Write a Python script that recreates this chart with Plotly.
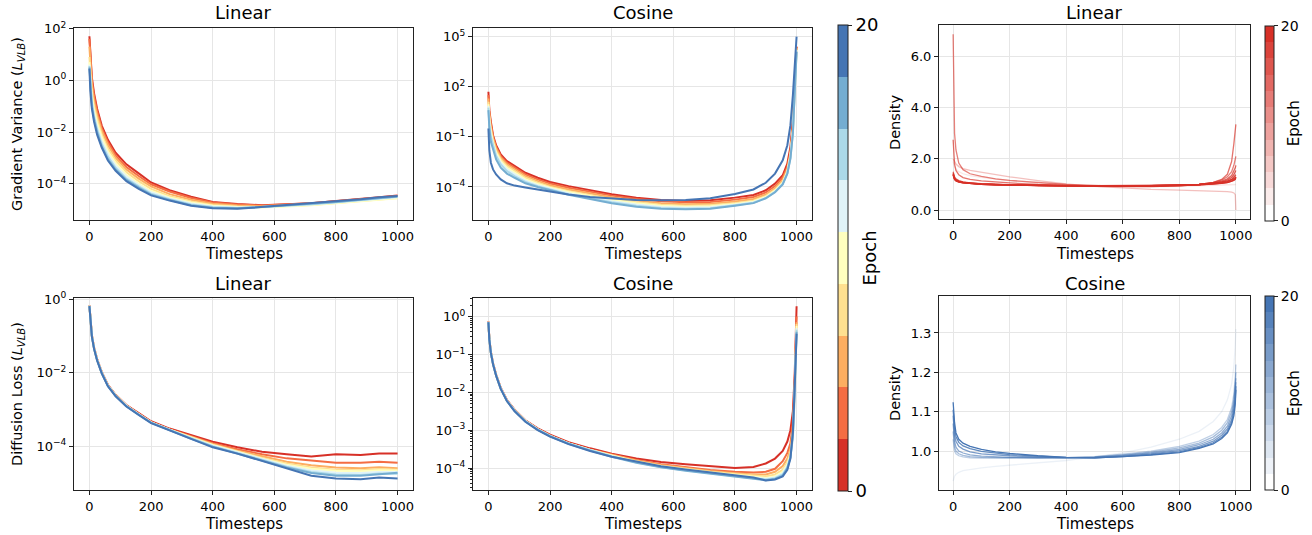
import plotly.graph_objects as go

# ---------------- data ----------------
EPOCH_COLORS = ["#d73027", "#f46d43", "#fdae61", "#fee090", "#ffffbf",
                "#e0f3f8", "#abd9e9", "#74add1", "#4575b4"]

T_LIN = [0, 3, 8, 15, 25, 40, 60, 85, 120, 160, 200, 260, 330, 400, 480, 560,
         640, 720, 800, 880, 940, 1000]
T_COS = [0, 3, 8, 15, 25, 40, 60, 85, 120, 160, 200, 260, 330, 400, 480, 560,
         640, 720, 800, 860, 900, 930, 955, 970, 980, 988, 994, 1000]
T_DENS = [0, 2, 5, 10, 20, 35, 60, 100, 150, 200, 300, 400, 500, 600, 700, 800,
          870, 920, 950, 970, 985, 993, 998, 1000]

# log10 of gradient variance, linear schedule (epoch colours red -> blue)
GV_LINEAR_LOG10 = [
    [1.7, 0.9, 0.1, -0.5, -1.1, -1.75, -2.3, -2.8, -3.25, -3.6, -3.95, -4.25, -4.5, -4.7, -4.78, -4.83, -4.8, -4.75, -4.67, -4.6, -4.52, -4.45],
    [1.6, 0.8, 0.0, -0.6, -1.2, -1.85, -2.4, -2.9, -3.35, -3.7, -4.02, -4.3, -4.55, -4.72, -4.8, -4.84, -4.8, -4.75, -4.68, -4.6, -4.53, -4.47],
    [1.3, 0.5, -0.2, -0.8, -1.35, -1.95, -2.5, -3.0, -3.45, -3.8, -4.1, -4.4, -4.62, -4.77, -4.84, -4.87, -4.83, -4.78, -4.7, -4.63, -4.56, -4.5],
    [0.9, 0.2, -0.45, -1.0, -1.5, -2.1, -2.65, -3.1, -3.55, -3.9, -4.2, -4.48, -4.68, -4.82, -4.88, -4.9, -4.87, -4.82, -4.74, -4.67, -4.6, -4.55],
    [0.7, 0.0, -0.6, -1.15, -1.65, -2.2, -2.75, -3.2, -3.65, -4.0, -4.28, -4.53, -4.72, -4.85, -4.9, -4.92, -4.88, -4.83, -4.75, -4.68, -4.61, -4.56],
    [0.6, -0.1, -0.75, -1.3, -1.8, -2.35, -2.85, -3.3, -3.72, -4.05, -4.33, -4.57, -4.76, -4.88, -4.92, -4.9, -4.86, -4.8, -4.72, -4.65, -4.58, -4.52],
    [0.55, -0.2, -0.85, -1.4, -1.9, -2.45, -2.95, -3.38, -3.8, -4.1, -4.38, -4.6, -4.8, -4.9, -4.94, -4.9, -4.85, -4.79, -4.71, -4.63, -4.56, -4.5],
    [0.5, -0.3, -1.0, -1.5, -2.0, -2.55, -3.05, -3.45, -3.85, -4.15, -4.42, -4.63, -4.83, -4.93, -4.95, -4.9, -4.84, -4.78, -4.7, -4.62, -4.55, -4.49],
    [0.45, -0.4, -1.1, -1.6, -2.1, -2.6, -3.1, -3.5, -3.9, -4.2, -4.45, -4.65, -4.85, -4.95, -4.97, -4.9, -4.82, -4.76, -4.68, -4.6, -4.52, -4.47],
]

# log10 of gradient variance, cosine schedule
GV_COSINE_LOG10 = [
    [1.7, 0.6, -0.1, -0.9, -1.5, -2.05, -2.45, -2.75, -3.15, -3.45, -3.7, -3.95, -4.2, -4.44, -4.65, -4.78, -4.84, -4.8, -4.64, -4.48, -4.2, -3.8, -3.3, -2.6, -1.6, 0.0, 2.5, 4.4],
    [1.5, 0.45, -0.25, -1.0, -1.6, -2.15, -2.55, -2.85, -3.25, -3.55, -3.8, -4.05, -4.3, -4.52, -4.72, -4.86, -4.92, -4.9, -4.76, -4.6, -4.33, -3.95, -3.45, -2.8, -1.9, -0.3, 2.2, 4.4],
    [1.3, 0.3, -0.4, -1.1, -1.7, -2.25, -2.65, -2.95, -3.35, -3.65, -3.9, -4.15, -4.4, -4.62, -4.82, -4.97, -5.03, -5.0, -4.87, -4.72, -4.45, -4.08, -3.6, -2.95, -2.0, -0.5, 2.0, 4.3],
    [1.1, 0.1, -0.6, -1.25, -1.85, -2.35, -2.75, -3.05, -3.45, -3.75, -4.0, -4.25, -4.5, -4.72, -4.92, -5.07, -5.13, -5.1, -4.97, -4.82, -4.55, -4.18, -3.7, -3.05, -2.1, -0.6, 1.9, 4.3],
    [0.95, 0.0, -0.7, -1.35, -1.95, -2.45, -2.85, -3.15, -3.55, -3.82, -4.05, -4.3, -4.55, -4.78, -4.98, -5.12, -5.18, -5.15, -5.02, -4.87, -4.6, -4.22, -3.75, -3.1, -2.15, -0.7, 1.8, 4.2],
    [0.85, -0.15, -0.85, -1.45, -2.05, -2.55, -2.95, -3.25, -3.62, -3.9, -4.1, -4.38, -4.62, -4.85, -5.05, -5.2, -5.25, -5.22, -5.07, -4.92, -4.65, -4.27, -3.8, -3.15, -2.2, -0.7, 1.8, 4.2],
    [0.75, -0.3, -1.0, -1.55, -2.15, -2.65, -3.05, -3.35, -3.7, -3.95, -4.15, -4.43, -4.67, -4.92, -5.12, -5.26, -5.3, -5.27, -5.1, -4.95, -4.67, -4.3, -3.82, -3.18, -2.25, -0.75, 1.7, 4.1],
    [0.6, -0.5, -1.3, -1.8, -2.35, -2.85, -3.2, -3.45, -3.78, -4.0, -4.2, -4.47, -4.72, -4.98, -5.18, -5.3, -5.34, -5.3, -5.12, -4.97, -4.68, -4.32, -3.85, -3.2, -2.3, -0.8, 1.7, 4.1],
    [-0.5, -1.8, -2.55, -2.95, -3.25, -3.55, -3.78, -3.92, -4.03, -4.15, -4.28, -4.45, -4.6, -4.7, -4.78, -4.8, -4.78, -4.68, -4.42, -4.15, -3.75, -3.2, -2.4, -1.5, -0.3, 1.5, 3.5, 5.0],
]

# log10 of diffusion loss, linear schedule
DL_LINEAR_LOG10 = [
    [-0.17, -0.58, -0.98, -1.31, -1.63, -1.98, -2.33, -2.6, -2.88, -3.1, -3.32, -3.52, -3.7, -3.88, -4.03, -4.15, -4.22, -4.28, -4.22, -4.24, -4.2, -4.2],
    [-0.17, -0.58, -0.98, -1.32, -1.64, -1.99, -2.34, -2.61, -2.89, -3.12, -3.34, -3.54, -3.73, -3.92, -4.08, -4.22, -4.33, -4.4, -4.45, -4.45, -4.42, -4.45],
    [-0.18, -0.6, -1.0, -1.33, -1.65, -2.0, -2.35, -2.62, -2.9, -3.13, -3.35, -3.55, -3.75, -3.94, -4.12, -4.28, -4.42, -4.52, -4.58, -4.6, -4.57, -4.6],
    [-0.18, -0.6, -1.0, -1.33, -1.65, -2.0, -2.35, -2.62, -2.9, -3.13, -3.35, -3.55, -3.76, -3.96, -4.14, -4.32, -4.47, -4.58, -4.64, -4.65, -4.62, -4.64],
    [-0.18, -0.6, -1.0, -1.33, -1.65, -2.0, -2.35, -2.62, -2.9, -3.13, -3.35, -3.55, -3.77, -3.97, -4.15, -4.34, -4.5, -4.61, -4.67, -4.68, -4.65, -4.66],
    [-0.18, -0.6, -1.0, -1.33, -1.65, -2.0, -2.35, -2.62, -2.9, -3.13, -3.35, -3.55, -3.78, -3.98, -4.16, -4.36, -4.53, -4.66, -4.72, -4.73, -4.7, -4.7],
    [-0.18, -0.6, -1.0, -1.34, -1.66, -2.01, -2.36, -2.63, -2.91, -3.14, -3.36, -3.56, -3.79, -4.0, -4.18, -4.38, -4.56, -4.7, -4.77, -4.78, -4.74, -4.75],
    [-0.19, -0.61, -1.01, -1.34, -1.66, -2.01, -2.36, -2.63, -2.91, -3.14, -3.36, -3.56, -3.8, -4.01, -4.19, -4.39, -4.58, -4.73, -4.8, -4.8, -4.76, -4.72],
    [-0.19, -0.61, -1.02, -1.35, -1.67, -2.02, -2.37, -2.64, -2.92, -3.15, -3.37, -3.57, -3.8, -4.03, -4.2, -4.4, -4.6, -4.8, -4.88, -4.9, -4.85, -4.88],
]

# log10 of diffusion loss, cosine schedule
DL_COSINE_LOG10 = [
    [-0.13, -0.58, -0.93, -1.23, -1.53, -1.88, -2.2, -2.46, -2.74, -2.95, -3.12, -3.32, -3.48, -3.62, -3.75, -3.84, -3.9, -3.96, -4.0, -3.97, -3.88, -3.75, -3.55, -3.3, -3.0, -2.5, -1.5, 0.27],
    [-0.13, -0.59, -0.94, -1.24, -1.54, -1.89, -2.21, -2.47, -2.75, -2.97, -3.14, -3.34, -3.51, -3.65, -3.79, -3.9, -3.98, -4.05, -4.1, -4.12, -4.1, -4.02, -3.82, -3.6, -3.35, -2.8, -1.7, 0.0],
    [-0.14, -0.6, -0.95, -1.25, -1.55, -1.9, -2.22, -2.48, -2.76, -2.98, -3.15, -3.35, -3.52, -3.66, -3.8, -3.92, -4.0, -4.08, -4.14, -4.17, -4.17, -4.1, -3.95, -3.75, -3.5, -3.0, -1.9, -0.15],
    [-0.14, -0.6, -0.95, -1.25, -1.55, -1.9, -2.22, -2.48, -2.76, -2.98, -3.15, -3.35, -3.52, -3.67, -3.82, -3.94, -4.02, -4.1, -4.16, -4.2, -4.22, -4.17, -4.05, -3.85, -3.6, -3.1, -2.0, -0.2],
    [-0.14, -0.6, -0.95, -1.25, -1.55, -1.9, -2.22, -2.48, -2.76, -2.98, -3.15, -3.35, -3.52, -3.67, -3.83, -3.95, -4.04, -4.12, -4.18, -4.23, -4.26, -4.22, -4.1, -3.9, -3.65, -3.15, -2.0, -0.25],
    [-0.14, -0.6, -0.95, -1.25, -1.55, -1.9, -2.22, -2.48, -2.76, -2.98, -3.15, -3.35, -3.52, -3.68, -3.84, -3.96, -4.05, -4.13, -4.2, -4.25, -4.28, -4.25, -4.14, -3.95, -3.7, -3.2, -2.1, -0.3],
    [-0.14, -0.6, -0.95, -1.25, -1.55, -1.9, -2.22, -2.48, -2.76, -2.98, -3.15, -3.35, -3.52, -3.69, -3.85, -3.97, -4.06, -4.14, -4.21, -4.27, -4.3, -4.27, -4.17, -3.98, -3.72, -3.2, -2.1, -0.35],
    [-0.15, -0.61, -0.96, -1.26, -1.56, -1.91, -2.23, -2.49, -2.77, -2.99, -3.16, -3.36, -3.54, -3.7, -3.86, -3.98, -4.07, -4.15, -4.22, -4.28, -4.32, -4.29, -4.2, -4.0, -3.72, -3.1, -1.9, -0.4],
    [-0.15, -0.61, -0.96, -1.26, -1.56, -1.91, -2.23, -2.5, -2.78, -3.0, -3.17, -3.37, -3.55, -3.7, -3.83, -3.95, -4.04, -4.11, -4.19, -4.25, -4.33, -4.3, -4.22, -4.05, -3.75, -3.05, -1.85, -0.45],
]

# sampling density, linear schedule (light -> dark red)
DENSITY_LINEAR = [
    [1.9, 1.8, 1.7, 1.6, 1.5, 1.42, 1.35, 1.28, 1.2, 1.14, 1.05, 0.98, 0.94, 0.92, 0.92, 0.93, 0.95, 0.97, 0.98, 0.99, 1.0, 1.0, 1.0, 1.0],
    [2.0, 1.95, 1.9, 1.8, 1.7, 1.62, 1.55, 1.47, 1.38, 1.3, 1.15, 1.02, 0.93, 0.86, 0.81, 0.78, 0.76, 0.75, 0.74, 0.72, 0.7, 0.67, 0.6, 0.0],
    [6.88, 4.3, 3.0, 2.35, 1.84, 1.58, 1.42, 1.32, 1.22, 1.16, 1.07, 1.0, 0.96, 0.93, 0.93, 0.95, 1.0, 1.08, 1.17, 1.3, 1.5, 1.75, 2.0, 2.1],
    [2.75, 2.2, 1.8, 1.55, 1.38, 1.27, 1.2, 1.14, 1.09, 1.06, 1.0, 0.96, 0.93, 0.92, 0.92, 0.95, 1.0, 1.08, 1.2, 1.4, 1.9, 2.6, 3.1, 3.35],
    [1.5, 1.4, 1.3, 1.22, 1.15, 1.1, 1.06, 1.03, 1.0, 0.98, 0.96, 0.94, 0.93, 0.93, 0.94, 0.96, 1.0, 1.06, 1.13, 1.22, 1.35, 1.5, 1.65, 1.75],
    [1.45, 1.35, 1.26, 1.19, 1.13, 1.09, 1.05, 1.02, 1.0, 0.98, 0.96, 0.95, 0.94, 0.94, 0.95, 0.97, 1.0, 1.05, 1.1, 1.17, 1.27, 1.38, 1.5, 1.55],
    [1.42, 1.32, 1.24, 1.17, 1.12, 1.08, 1.05, 1.02, 1.0, 0.98, 0.96, 0.95, 0.94, 0.94, 0.95, 0.97, 1.0, 1.04, 1.08, 1.13, 1.2, 1.28, 1.35, 1.38],
    [1.4, 1.3, 1.22, 1.16, 1.11, 1.07, 1.04, 1.01, 0.99, 0.98, 0.96, 0.95, 0.94, 0.94, 0.95, 0.97, 1.0, 1.03, 1.07, 1.11, 1.17, 1.23, 1.28, 1.3],
    [1.38, 1.28, 1.2, 1.15, 1.1, 1.06, 1.03, 1.01, 0.99, 0.98, 0.96, 0.95, 0.94, 0.94, 0.95, 0.97, 0.99, 1.02, 1.05, 1.08, 1.13, 1.18, 1.22, 1.25],
    [1.36, 1.27, 1.2, 1.14, 1.09, 1.06, 1.03, 1.01, 0.99, 0.98, 0.96, 0.95, 0.95, 0.95, 0.95, 0.97, 0.99, 1.01, 1.04, 1.07, 1.11, 1.16, 1.2, 1.3],
]
DENSITY_LINEAR_ALPHA = [0.12, 0.3, 0.62, 0.68, 0.74, 0.8, 0.86, 0.9, 0.95, 1.0]

# sampling density, cosine schedule (light -> dark blue)
DENSITY_COSINE = [
    [0.924, 0.93, 0.936, 0.941, 0.946, 0.95, 0.953, 0.957, 0.961, 0.964, 0.969, 0.976, 0.985, 0.995, 1.01, 1.03, 1.05, 1.075, 1.1, 1.13, 1.17, 1.215, 1.27, 1.31],
    [1.03, 1.01, 1.0, 0.993, 0.988, 0.985, 0.983, 0.982, 0.982, 0.982, 0.982, 0.983, 0.986, 0.992, 1.0, 1.012, 1.025, 1.042, 1.06, 1.08, 1.11, 1.145, 1.19, 1.22],
    [1.05, 1.025, 1.01, 1.0, 0.993, 0.989, 0.986, 0.984, 0.983, 0.983, 0.983, 0.983, 0.985, 0.99, 0.997, 1.008, 1.02, 1.036, 1.053, 1.072, 1.1, 1.13, 1.17, 1.2],
    [1.07, 1.04, 1.025, 1.01, 1.0, 0.995, 0.99, 0.987, 0.985, 0.984, 0.983, 0.983, 0.984, 0.989, 0.995, 1.004, 1.016, 1.03, 1.046, 1.063, 1.09, 1.12, 1.155, 1.185],
    [1.09, 1.06, 1.04, 1.025, 1.012, 1.005, 0.998, 0.993, 0.99, 0.988, 0.985, 0.983, 0.983, 0.987, 0.993, 1.001, 1.012, 1.025, 1.04, 1.056, 1.08, 1.108, 1.14, 1.175],
    [1.105, 1.075, 1.057, 1.037, 1.022, 1.013, 1.006, 0.999, 0.995, 0.991, 0.987, 0.984, 0.983, 0.986, 0.991, 0.998, 1.009, 1.021, 1.035, 1.05, 1.073, 1.098, 1.13, 1.165],
    [1.124, 1.09, 1.072, 1.046, 1.03, 1.02, 1.012, 1.004, 0.998, 0.994, 0.988, 0.984, 0.983, 0.986, 0.99, 0.996, 1.007, 1.018, 1.032, 1.046, 1.068, 1.09, 1.12, 1.156],
]
DENSITY_COSINE_ALPHA = [0.1, 0.35, 0.48, 0.6, 0.72, 0.85, 1.0]

X_TICKS = [0, 200, 400, 600, 800, 1000]

# ---------------- styling helpers ----------------
W, H = 1312, 535
FONT = "DejaVu Sans"
RED = (215, 48, 39)
BLUE = (69, 117, 180)


def px(x):
    return x / W


def py(y):
    return 1 - y / H


def rgba(c, a):
    return f"rgba({c[0]},{c[1]},{c[2]},{a})"


def blend(c, a):
    return "rgb(%d,%d,%d)" % tuple(round(255 * (1 - a) + v * a) for v in c)


def sup(p):
    return "10<sup>%s</sup>" % (str(p) if p >= 0 else "\u2212" + str(-p))


common_axis = dict(
    showline=True, linecolor="#222", linewidth=1, mirror=True,
    ticks="outside", ticklen=4, tickwidth=1, tickcolor="#222",
    showgrid=True, gridcolor="#e6e6e6", gridwidth=1, zeroline=False,
    tickfont=dict(family=FONT, size=13, color="black"),
)


def xaxis(domain, anchor):
    return dict(common_axis, domain=domain, anchor=anchor, range=[-50, 1050],
                tickmode="array", tickvals=X_TICKS)


def ylog(domain, anchor, rng, exps):
    return dict(common_axis, domain=domain, anchor=anchor, type="log", range=rng,
                tickmode="array", tickvals=[10.0 ** e for e in exps],
                ticktext=[sup(e) for e in exps])


def ylin(domain, anchor, rng, vals):
    return dict(common_axis, domain=domain, anchor=anchor, range=rng,
                tickmode="array", tickvals=vals, ticktext=["%.1f" % v for v in vals])


XA = [px(74), px(413)]
XB = [px(473), px(812)]
XE = [px(939), px(1250)]
YT = [py(220), py(28)]
YB = [py(490), py(298)]
YTE = [py(219), py(25)]
YBF = [py(490), py(296)]

fig = go.Figure()

panels = [
    ("x", "y", T_LIN, GV_LINEAR_LOG10),
    ("x2", "y2", T_COS, GV_COSINE_LOG10),
    ("x4", "y4", T_LIN, DL_LINEAR_LOG10),
    ("x5", "y5", T_COS, DL_COSINE_LOG10),
]
for xa, ya, ts, series in panels:
    for color, vals in zip(EPOCH_COLORS, series):
        fig.add_trace(go.Scatter(
            x=ts, y=[10.0 ** v for v in vals], xaxis=xa, yaxis=ya, mode="lines",
            line=dict(color=color, width=2), showlegend=False, hoverinfo="skip"))

for vals, a in zip(DENSITY_LINEAR, DENSITY_LINEAR_ALPHA):
    fig.add_trace(go.Scatter(x=T_DENS, y=vals, xaxis="x3", yaxis="y3", mode="lines",
                             line=dict(color=rgba(RED, a), width=1.3),
                             showlegend=False, hoverinfo="skip"))
for vals, a in zip(DENSITY_COSINE, DENSITY_COSINE_ALPHA):
    fig.add_trace(go.Scatter(x=T_DENS, y=vals, xaxis="x6", yaxis="y6", mode="lines",
                             line=dict(color=rgba(BLUE, a), width=1.3),
                             showlegend=False, hoverinfo="skip"))


# ---------------- colorbars ----------------
def stepped(colors):
    n = len(colors)
    cs = []
    for i, c in enumerate(colors):
        cs.append([i / n, c])
        cs.append([(i + 1) / n, c])
    return cs


def cbar_trace(colorscale, x_left, y_top, y_bot, thick, tsize, title_size, xa, ya):
    return go.Scatter(
        x=[None], y=[None], xaxis=xa, yaxis=ya, mode="markers", showlegend=False,
        hoverinfo="skip",
        marker=dict(
            color=[0], cmin=0, cmax=20, colorscale=colorscale, showscale=True,
            colorbar=dict(
                x=x_left, xanchor="left", xpad=0, ypad=0,
                y=(y_top + y_bot) / 2, yanchor="middle", len=y_top - y_bot,
                lenmode="fraction", thickness=thick, thicknessmode="pixels",
                outlinewidth=1, outlinecolor="#222",
                tickmode="array", tickvals=[0, 20], ticktext=["0", "20"],
                ticks="outside", ticklen=4, tickcolor="#222",
                tickfont=dict(family=FONT, size=tsize, color="black"),
                title=dict(text="Epoch", side="right",
                           font=dict(family=FONT, size=title_size, color="black")),
            )))


fig.add_trace(cbar_trace(stepped(EPOCH_COLORS), px(838), py(25), py(491), 10, 18, 18, "x", "y"))
fig.add_trace(cbar_trace(stepped([blend(RED, i / 11) for i in range(12)]),
                         px(1265), py(26), py(220.5), 9, 14, 15, "x3", "y3"))
fig.add_trace(cbar_trace(stepped([blend(BLUE, i / 11) for i in range(12)]),
                         px(1265), py(296.5), py(490), 9, 14, 15, "x6", "y6"))

# ---------------- layout ----------------
minor_d = [m * 10.0 ** e for e in range(-5, 1) for m in range(2, 10)]
y5 = ylog(YB, "x5", [-4.58, 0.49], [0, -1, -2, -3, -4])
y5["minor"] = dict(tickmode="array", tickvals=minor_d, ticks="outside", ticklen=2,
                   tickcolor="#222", showgrid=False)

fig.update_layout(
    width=W, height=H, margin=dict(l=0, r=0, t=0, b=0, autoexpand=False),
    paper_bgcolor="white", plot_bgcolor="white",
    font=dict(family=FONT, color="black"),
    xaxis=xaxis(XA, "y"), yaxis=ylog(YT, "x", [-5.4, 2.02], [2, 0, -2, -4]),
    xaxis2=xaxis(XB, "y2"), yaxis2=ylog(YT, "x2", [-5.98, 5.52], [5, 2, -1, -4]),
    xaxis3=xaxis(XE, "y3"), yaxis3=ylin(YTE, "x3", [-0.35, 7.24], [0.0, 2.0, 4.0, 6.0]),
    xaxis4=xaxis(XA, "y4"), yaxis4=ylog(YB, "x4", [-5.19, 0.03], [0, -2, -4]),
    xaxis5=xaxis(XB, "y5"), yaxis5=y5,
    xaxis6=xaxis(XE, "y6"), yaxis6=ylin(YBF, "x6", [0.901, 1.394], [1.0, 1.1, 1.2, 1.3]),
)

ann = []


def label(text, x, y, size, angle=0):
    ann.append(dict(text=text, x=px(x), y=py(y), xref="paper", yref="paper",
                    showarrow=False, textangle=angle, xanchor="center", yanchor="middle",
                    font=dict(family=FONT, size=size, color="black")))


for (txt, cx) in [("Linear", 243.5), ("Cosine", 642.5), ("Linear", 1094.5)]:
    label(txt, cx, 12, 18)
for (txt, cx) in [("Linear", 243.5), ("Cosine", 642.5), ("Cosine", 1094.5)]:
    label(txt, cx, 283, 18)
for cx in [243.5, 642.5, 1094.5]:
    label("Timesteps", cx, 254, 15)
    label("Timesteps", cx, 524, 15)
label("Gradient Variance (<i>L</i><sub><i>VLB</i></sub>)", 18, 124, 14.5, -90)
label("Diffusion Loss (<i>L</i><sub><i>VLB</i></sub>)", 18, 394, 14.5, -90)
label("Density", 895, 122, 14.5, -90)
label("Density", 895, 393, 14.5, -90)
fig.update_layout(annotations=ann)

# the page's default body margin would shift the figure by 8 px; remove it
fig.write_html("out.html", config={"displayModeBar": False},
               post_script="document.body.style.margin='0';document.body.style.overflow='hidden';")
